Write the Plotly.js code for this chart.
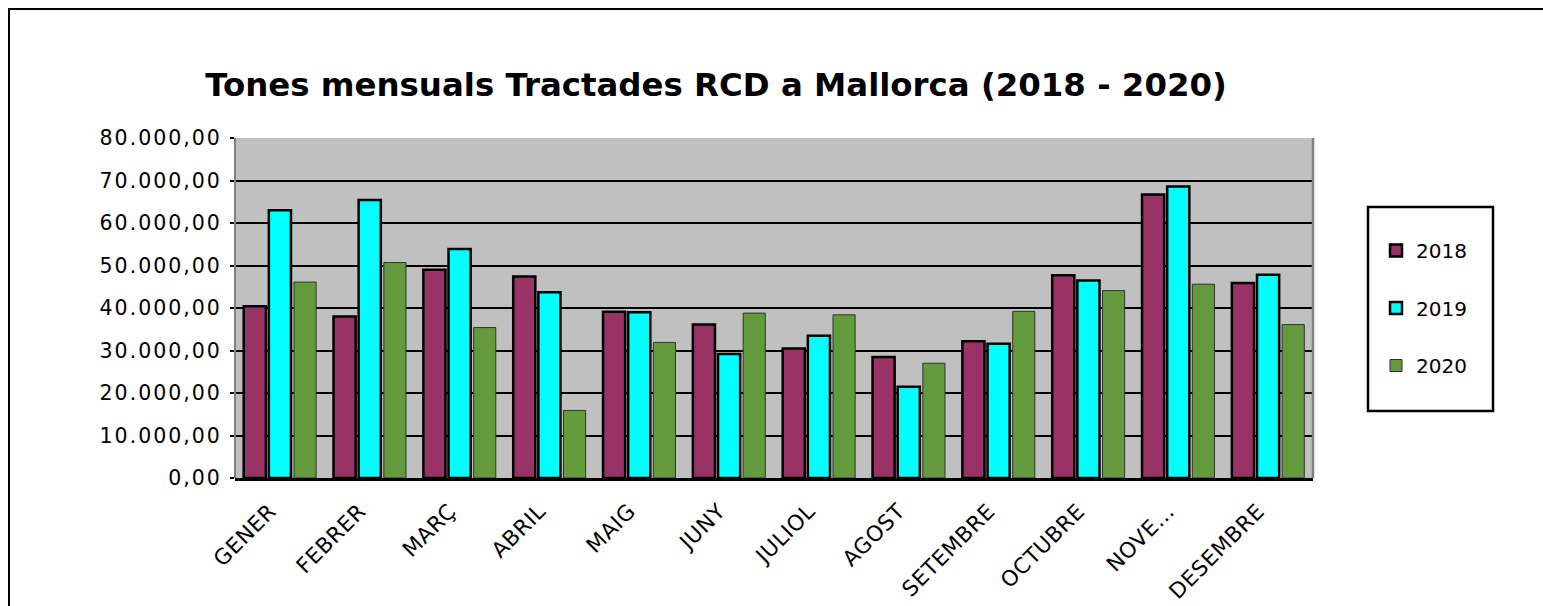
<!DOCTYPE html>
<html>
<head>
<meta charset="utf-8">
<script src="https://cdn.plot.ly/plotly-3.0.1.min.js"></script>
<style>
  html, body { margin: 0; padding: 0; background: #ffffff; overflow: hidden; }
  #frame { position: absolute; left: 8px; top: 8px; width: 1600px; height: 700px;
           border-left: 2.5px solid #000; border-top: 2.5px solid #000; box-sizing: border-box; pointer-events: none; z-index: 5; }
  #chart { position: absolute; left: 0; top: 0; width: 1543px; height: 606px; }
  #chart .ytick text { letter-spacing: 2px; }
  #chart .xtick text { letter-spacing: 0.6px; }
</style>
</head>
<body>
<div id="chart"></div>
<div id="frame"></div>
<script>
const months = ['GENER', 'FEBRER', 'MARÇ', 'ABRIL', 'MAIG', 'JUNY', 'JULIOL', 'AGOST', 'SETEMBRE', 'OCTUBRE', 'NOVE…', 'DESEMBRE'];
const seriesNames = ['2018', '2019', '2020'];
const values2018 = [40400, 38000, 49000, 47400, 39100, 36100, 30500, 28500, 32200, 47700, 66700, 45900];
const values2019 = [63000, 65400, 53900, 43700, 39000, 29200, 33500, 21500, 31600, 46500, 68600, 47800];
const values2020 = [46100, 50700, 35400, 15900, 31900, 38800, 38400, 27000, 39200, 44100, 45600, 36100];
const yTicks = [0, 10000, 20000, 30000, 40000, 50000, 60000, 70000, 80000];

const font = 'DejaVu Sans, Verdana, sans-serif';

const traces = [
  { name: seriesNames[0], y: values2018, color: '#993366', lc: '#000000', lw: 2.5 },
  { name: seriesNames[1], y: values2019, color: '#00FFFF', lc: '#000000', lw: 2.5 },
  { name: seriesNames[2], y: values2020, color: '#639A3C', lc: '#333333', lw: 1 }
].map((s, i) => ({
  type: 'bar', name: s.name, x: months, y: s.y, legendgroup: 'g' + i,
  marker: { color: s.color, line: { color: s.lc, width: s.lw } },
  hoverinfo: 'x+y+name'
}));

const L = 235, R = 1313, T = 138, B = 478;
const W = 1543, H = 606;
const pw = R - L, ph = B - T;
const px = v => (v - L) / pw;
const py = v => (B - v) / ph;

const layout = {
  width: W, height: H,
  margin: { l: L, r: W - R, t: T, b: H - B, pad: 0 },
  paper_bgcolor: '#ffffff',
  plot_bgcolor: '#C0C0C0',
  separators: ',.',
  font: { family: font, color: '#000000', size: 20 },
  title: {
    text: '<b>Tones mensuals Tractades RCD a Mallorca (2018 - 2020)</b>',
    font: { family: font, size: 32.4, color: '#000000' },
    x: 716 / W, xref: 'container', xanchor: 'center',
    y: 1 - 85 / H, yref: 'container', yanchor: 'middle'
  },
  barmode: 'group',
  bargap: 0.16,
  bargroupgap: 0.12,
  xaxis: {
    type: 'category',
    tickangle: -45,
    tickfont: { family: font, size: 21.5, color: '#000000' },
    ticklabelstandoff: 9,
    ticklabelshift: -10,
    showline: true, linecolor: '#000000', linewidth: 3,
    ticks: '', showgrid: false, zeroline: false,
    automargin: false
  },
  yaxis: {
    range: [0, 80000],
    tickvals: yTicks,
    tickformat: ',.2f',
    tickfont: { family: font, size: 20.5, color: '#000000' },
    ticks: 'outside', ticklen: 4, tickwidth: 2, tickcolor: '#000000',
    ticklabelstandoff: 4,
    showgrid: true, gridcolor: '#000000', gridwidth: 2,
    showline: false, zeroline: false,
    automargin: false
  },
  showlegend: true,
  legend: {
    x: px(1376), xanchor: 'left',
    y: py(231), yanchor: 'top',
    bgcolor: 'rgba(0,0,0,0)', borderwidth: 0,
    font: { family: font, size: 20, color: '#000000' },
    traceorder: 'grouped', tracegroupgap: 28.5
  },
  shapes: [
    { type: 'line', xref: 'paper', yref: 'paper', x0: 0, x1: 0, y0: 0, y1: 1,
      line: { color: '#808080', width: 2 }, layer: 'above' },
    { type: 'line', xref: 'paper', yref: 'paper', x0: 1, x1: 1, y0: 0, y1: 1,
      line: { color: '#808080', width: 2.5 }, layer: 'above' },
    { type: 'rect', xref: 'paper', yref: 'paper', x0: px(1368), x1: px(1493), y0: py(411), y1: py(207),
      line: { color: '#000000', width: 2.5 }, fillcolor: 'rgba(0,0,0,0)' }
  ]
};

Plotly.newPlot('chart', traces, layout, { displayModeBar: false });
</script>
</body>
</html>
